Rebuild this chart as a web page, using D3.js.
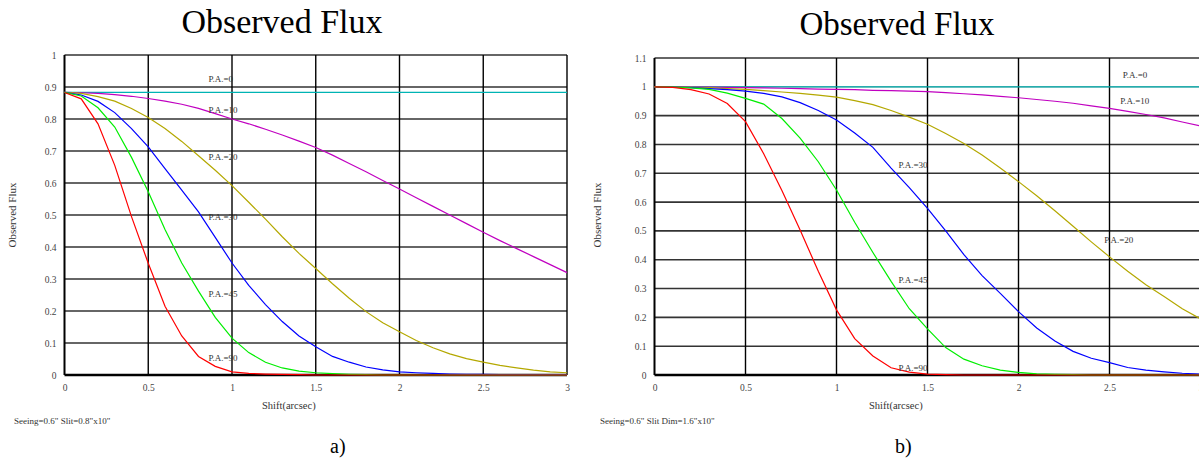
<!DOCTYPE html>
<html>
<head>
<meta charset="utf-8">
<script src="https://cdn.jsdelivr.net/npm/d3@7"></script>
<style>
  html, body { margin: 0; padding: 0; background: #fff; }
  svg { display: block; }
  text { font-family: "Liberation Serif", "Times New Roman", serif; }
</style>
</head>
<body>
<div id="chart"></div>
<script>
// ---------- data ----------
const shift = [0,0.1,0.2,0.3,0.4,0.5,0.6,0.7,0.8,0.9,1.0,1.1,1.2,1.3,1.4,1.5,1.6,1.7,1.8,1.9,2.0,2.1,2.2,2.3,2.4,2.5,2.6,2.7,2.8,2.9,3.0];

// panel a) Seeing=0.6" Slit=0.8"x10"
const a_pa0  = [0.883,0.883,0.883,0.883,0.883,0.883,0.883,0.883,0.883,0.883,0.883,0.883,0.883,0.883,0.883,0.883,0.883,0.883,0.883,0.883,0.883,0.883,0.883,0.883,0.883,0.883,0.883,0.883,0.883,0.883,0.883];
const a_pa10 = [0.883,0.882,0.880,0.876,0.871,0.864,0.856,0.846,0.833,0.817,0.800,0.785,0.768,0.750,0.731,0.711,0.687,0.661,0.635,0.608,0.581,0.554,0.527,0.500,0.473,0.446,0.420,0.395,0.370,0.345,0.320];
const a_pa20 = [0.883,0.880,0.870,0.856,0.833,0.805,0.770,0.730,0.685,0.640,0.592,0.540,0.487,0.432,0.380,0.333,0.285,0.240,0.198,0.163,0.135,0.108,0.085,0.066,0.051,0.040,0.030,0.022,0.015,0.010,0.007];
const a_pa30 = [0.883,0.875,0.855,0.820,0.770,0.713,0.645,0.578,0.510,0.430,0.350,0.280,0.220,0.167,0.122,0.088,0.058,0.040,0.025,0.016,0.010,0.007,0.005,0.003,0.002,0.002,0.001,0.001,0.001,0.001,0.001];
const a_pa45 = [0.883,0.872,0.835,0.775,0.680,0.573,0.455,0.350,0.262,0.180,0.115,0.070,0.040,0.022,0.012,0.007,0.004,0.002,0.001,0,0,0,0,0,0,0,0,0,0,0,0];
const a_pa90 = [0.883,0.863,0.785,0.655,0.495,0.349,0.215,0.122,0.058,0.027,0.010,0.005,0.003,0.002,0.001,0,0,0,0,0,0,0,0,0,0,0,0,0,0,0,0];

// panel b) Seeing=0.6" Slit Dim=1.6"x10"
const b_pa0  = [1,1,1,1,1,1,1,1,1,1,1,1,1,1,1,1,1,1,1,1,1,1,1,1,1,1,1,1,1,1,1];
const b_pa10 = [1.0,1.0,0.999,0.999,0.998,0.997,0.996,0.995,0.994,0.992,0.991,0.990,0.988,0.987,0.985,0.983,0.980,0.976,0.972,0.967,0.962,0.956,0.950,0.943,0.934,0.925,0.915,0.904,0.892,0.878,0.864];
const b_pa20 = [1.0,1.0,0.998,0.997,0.994,0.991,0.987,0.982,0.977,0.971,0.964,0.952,0.938,0.918,0.895,0.870,0.838,0.803,0.763,0.718,0.671,0.622,0.570,0.516,0.462,0.410,0.360,0.313,0.272,0.230,0.195];
const b_pa30 = [1.0,0.999,0.997,0.994,0.990,0.985,0.977,0.965,0.945,0.918,0.885,0.840,0.790,0.718,0.650,0.578,0.500,0.418,0.345,0.283,0.220,0.163,0.118,0.082,0.058,0.043,0.026,0.017,0.011,0.006,0.003];
const b_pa45 = [1.0,0.999,0.996,0.991,0.978,0.960,0.940,0.890,0.822,0.740,0.642,0.530,0.425,0.325,0.230,0.160,0.095,0.055,0.032,0.017,0.009,0.004,0.002,0.001,0,0,0,0,0,0,0];
const b_pa90 = [1.0,0.998,0.990,0.975,0.942,0.879,0.768,0.640,0.503,0.360,0.226,0.126,0.066,0.025,0.010,0.003,0.001,0,0,0,0,0,0,0,0,0,0,0,0,0,0];

const seriesNames = ["P.A.=0","P.A.=10","P.A.=20","P.A.=30","P.A.=45","P.A.=90"];
const xTickLabels = ["0","0.5","1","1.5","2","2.5","3"];
const yTickLabelsA = ["0","0.1","0.2","0.3","0.4","0.5","0.6","0.7","0.8","0.9","1"];
const yTickLabelsB = ["0","0.1","0.2","0.3","0.4","0.5","0.6","0.7","0.8","0.9","1","1.1"];
// label anchors (data units: shift, flux)
const labelPosA = [[0.859,0.925],[0.859,0.828],[0.859,0.682],[0.859,0.495],[0.859,0.253],[0.859,0.054]];
const labelPosB = [[2.573,1.041],[2.559,0.951],[2.471,0.468],[1.340,0.729],[1.340,0.330],[1.340,0.025]];

// ---------- drawing ----------
const colors = ["#00b4b4","#c000c0","#b4a800","#0000ff","#00ee00","#ff0000"];
const W = 1199, H = 466;
const svg = d3.select("#chart").append("svg").attr("width", W).attr("height", H);

function panel(cfg) {
  const g = svg.append("g");
  const x = d3.scaleLinear().domain([0, 3]).range([cfg.left, cfg.right]);
  const yMax = +cfg.yTicks[cfg.yTicks.length - 1];
  const y = d3.scaleLinear().domain([0, yMax]).range([375, cfg.top]);
  const yVals = cfg.yTicks.map(Number);
  const xVals = xTickLabels.map(Number);

  // horizontal gridlines
  g.selectAll("line.h").data(yVals).join("line")
    .attr("x1", x(0)).attr("x2", x(3))
    .attr("y1", d => y(d)).attr("y2", d => y(d))
    .attr("stroke", d => (d === 0 ? "#000" : (cfg.greyOne && d === 1 ? "#999" : "#333")))
    .attr("stroke-width", d => (d === 0 ? 2.5 : 1.6));
  // vertical gridlines
  g.selectAll("line.v").data(xVals).join("line")
    .attr("x1", d => x(d)).attr("x2", d => x(d))
    .attr("y1", y(0)).attr("y2", y(yMax))
    .attr("stroke", "#000")
    .attr("stroke-width", d => (d === 0 ? 2 : 1.4));

  // axes (labels only)
  const ax = g.append("g").attr("transform", `translate(${x(0)},0)`)
    .call(d3.axisLeft(y).tickValues(yVals).tickSize(0).tickPadding(8)
      .tickFormat((d, i) => cfg.yTicks[i]));
  ax.select(".domain").remove();
  ax.attr("font-family", null);
  ax.selectAll("text").attr("font-size", 9.5).attr("fill", "#444");
  const bx = g.append("g").attr("transform", `translate(0,${y(0)})`)
    .call(d3.axisBottom(x).tickValues(xVals).tickSize(0).tickPadding(9)
      .tickFormat((d, i) => xTickLabels[i]));
  bx.select(".domain").remove();
  bx.attr("font-family", null);
  bx.selectAll("text").attr("font-size", 9.5).attr("fill", "#444");

  // series
  const line = d3.line().x((d, i) => x(shift[i])).y(d => y(d));
  g.selectAll("path.s").data(cfg.series).join("path")
    .attr("d", d => line(d))
    .attr("fill", "none")
    .attr("stroke", (d, i) => colors[i])
    .attr("stroke-width", 1.2);

  // series labels
  g.selectAll("text.lab").data(cfg.labels).join("text")
    .attr("x", d => x(d[0])).attr("y", d => y(d[1]))
    .attr("dy", "0.35em")
    .attr("font-size", 9).attr("fill", "#333")
    .text((d, i) => seriesNames[i]);

  // title
  g.append("text").attr("x", cfg.titleX).attr("y", cfg.titleY)
    .attr("text-anchor", "middle").attr("font-size", cfg.titleSize).attr("fill", "#000")
    .text("Observed Flux");
  // y label
  g.append("text")
    .attr("transform", `translate(${cfg.yLabX},215) rotate(-90)`)
    .attr("text-anchor", "middle").attr("dy", "0.35em")
    .attr("font-size", 11).attr("fill", "#333")
    .text("Observed Flux");
  // x label
  g.append("text").attr("x", cfg.xLabX).attr("y", 409)
    .attr("font-size", 10.5).attr("fill", "#333")
    .text("Shift(arcsec)");
  // note
  g.append("text").attr("x", cfg.noteX).attr("y", 424)
    .attr("font-size", 9).attr("fill", "#333")
    .text(cfg.note);
  // panel letter
  g.append("text").attr("x", cfg.letterX).attr("y", 453)
    .attr("font-size", 20).attr("fill", "#000")
    .text(cfg.letter);
}

panel({
  left: 64.5, right: 567, top: 55,
  yTicks: yTickLabelsA,
  series: [a_pa0, a_pa10, a_pa20, a_pa30, a_pa45, a_pa90],
  labels: labelPosA,
  titleX: 282, titleY: 33, titleSize: 34,
  yLabX: 12, xLabX: 262, noteX: 14,
  note: "Seeing=0.6\" Slit=0.8\"x10\"",
  letterX: 330, letter: "a)"
});
panel({
  left: 654.5, right: 1200.5, top: 58, greyOne: true,
  yTicks: yTickLabelsB,
  series: [b_pa0, b_pa10, b_pa20, b_pa30, b_pa45, b_pa90],
  labels: labelPosB,
  titleX: 897, titleY: 35, titleSize: 33,
  yLabX: 597, xLabX: 869, noteX: 600,
  note: "Seeing=0.6\" Slit Dim=1.6\"x10\"",
  letterX: 895, letter: "b)"
});
</script>
</body>
</html>
